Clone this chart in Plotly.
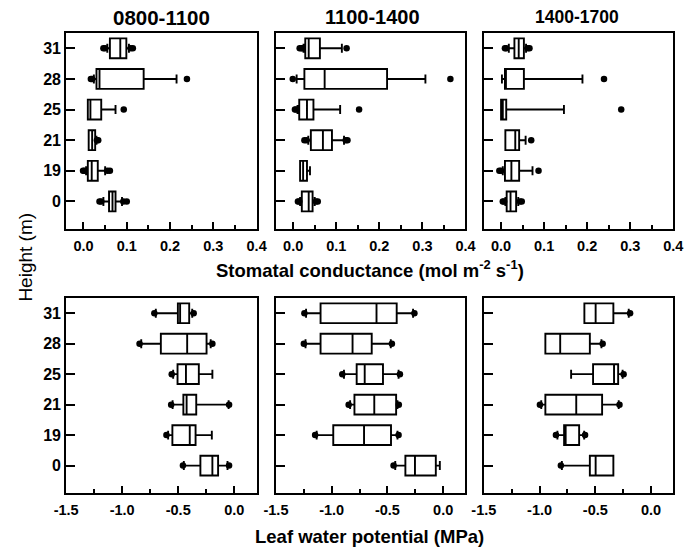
import plotly.graph_objects as go

heights = ["31", "28", "25", "21", "19", "0"]
pos = [0, 1, 2, 3, 4, 5]

periods = ["0800-1100", "1100-1400", "1400-1700"]

# Stomatal conductance (mol m-2 s-1): per period, per height (31..0)
gs_q1 = [
    [0.061, 0.030, 0.010, 0.012, 0.010, 0.059],
    [0.028, 0.026, 0.014, 0.041, 0.016, 0.020],
    [0.031, 0.009, 0.000, 0.010, 0.009, 0.013],
]
gs_med = [
    [0.085, 0.037, 0.016, 0.020, 0.019, 0.067],
    [0.036, 0.073, 0.032, 0.069, 0.023, 0.036],
    [0.041, 0.011, 0.004, 0.033, 0.024, 0.022],
]
gs_q3 = [
    [0.099, 0.139, 0.041, 0.027, 0.033, 0.074],
    [0.062, 0.218, 0.047, 0.090, 0.032, 0.045],
    [0.053, 0.053, 0.012, 0.042, 0.042, 0.035],
]
gs_lo = [
    [0.055, 0.024, 0.010, 0.012, 0.006, 0.046],
    [0.024, 0.008, 0.010, 0.035, 0.016, 0.016],
    [0.018, 0.002, 0.000, 0.010, 0.004, 0.010],
]
gs_hi = [
    [0.105, 0.215, 0.074, 0.030, 0.050, 0.089],
    [0.113, 0.307, 0.109, 0.118, 0.039, 0.050],
    [0.058, 0.189, 0.146, 0.057, 0.073, 0.040],
]
# outliers: (height index, value)
gs_out_idx = [
    [0, 0, 0, 0, 1, 1, 1, 2, 3, 3, 4, 4, 4, 4, 5, 5, 5, 5],
    [0, 0, 0, 0, 1, 1, 2, 2, 2, 3, 3, 3, 3, 5, 5, 5, 5],
    [0, 0, 0, 0, 1, 2, 3, 4, 4, 4, 5, 5, 5, 5],
]
gs_out_val = [
    [0.046, 0.050, 0.109, 0.114, 0.017, 0.020, 0.239, 0.093, 0.031, 0.034,
     -0.001, 0.002, 0.055, 0.061, 0.037, 0.041, 0.092, 0.100],
    [0.015, 0.019, 0.022, 0.124, -0.001, 0.365, 0.004, 0.007, 0.153,
     0.026, 0.031, 0.122, 0.126, 0.011, 0.014, 0.053, 0.057],
    [0.009, 0.012, 0.062, 0.066, 0.239, 0.279, 0.070, -0.004, 0.000, 0.087,
     0.004, 0.007, 0.044, 0.048],
]

# Leaf water potential (MPa)
lwp_q1 = [
    [-0.503, -0.655, -0.506, -0.454, -0.552, -0.302],
    [-1.100, -1.100, -0.776, -0.796, -0.986, -0.339],
    [-0.598, -0.948, -0.520, -0.948, -0.780, -0.549],
]
lwp_med = [
    [-0.483, -0.420, -0.431, -0.425, -0.397, -0.195],
    [-0.598, -0.813, -0.704, -0.618, -0.710, -0.253],
    [-0.497, -0.815, -0.332, -0.671, -0.766, -0.497],
]
lwp_q3 = [
    [-0.402, -0.247, -0.316, -0.339, -0.345, -0.144],
    [-0.417, -0.641, -0.540, -0.422, -0.468, -0.066],
    [-0.338, -0.549, -0.295, -0.439, -0.645, -0.338],
]
lwp_lo = [
    [-0.700, -0.830, -0.545, -0.550, -0.590, -0.450],
    [-1.230, -1.235, -0.890, -0.835, -1.135, -0.430],
    [-0.598, -0.948, -0.717, -0.985, -0.840, -0.800],
]
lwp_hi = [
    [-0.375, -0.210, -0.195, -0.050, -0.200, -0.060],
    [-0.270, -0.470, -0.400, -0.410, -0.410, -0.030],
    [-0.200, -0.445, -0.255, -0.290, -0.600, -0.338],
]
lwp_out_idx = [
    [0, 0, 1, 1, 2, 3, 3, 4, 5, 5],
    [0, 0, 1, 1, 2, 2, 3, 3, 4, 4, 5],
    [0, 1, 2, 3, 3, 4, 4, 5],
]
lwp_out_val = [
    [-0.713, -0.362, -0.845, -0.195, -0.558, -0.563, -0.046, -0.605, -0.458, -0.046],
    [-1.245, -0.258, -1.250, -0.460, -0.905, -0.388, -0.848, -0.398, -1.149, -0.400, -0.445],
    [-0.188, -0.434, -0.246, -0.997, -0.283, -0.853, -0.592, -0.809],
]

gs_ticks = [0.0, 0.1, 0.2, 0.3, 0.4]
gs_ticktext = ["0.0", "0.1", "0.2", "0.3", "0.4"]
gs_minor = [0.05, 0.15, 0.25, 0.35]
lwp_ticks = [-1.5, -1.0, -0.5, 0.0]
lwp_ticktext = ["-1.5", "-1.0", "-0.5", "0.0"]
lwp_minor = [-1.25, -0.75, -0.25]

FONT = "Liberation Sans, Arial, sans-serif"
W, H = 693, 548

x_dom = [(55 / W, 252 / W), (272 / W, 468 / W), (487 / W, 683 / W)]
y_dom_top = (1 - 229 / H, 1 - 33 / H)
y_dom_bot = (1 - 493 / H, 1 - 298 / H)

fig = go.Figure()
layout = {}

def add_panel(k, q1, med, q3, lo, hi, oi, ov, xdom, ydom, rng, tv, tt, mv, show_y):
    xname = "x" if k == 1 else f"x{k}"
    yname = "y" if k == 1 else f"y{k}"
    fig.add_trace(go.Box(
        y=pos, q1=q1, median=med, q3=q3, lowerfence=lo, upperfence=hi,
        orientation="h", xaxis=xname, yaxis=yname,
        fillcolor="white", line=dict(color="black", width=1.9),
        width=0.65, whiskerwidth=0.45, boxpoints=False, showlegend=False,
    ))
    fig.add_trace(go.Scatter(
        x=ov, y=oi, mode="markers", xaxis=xname, yaxis=yname,
        marker=dict(color="black", size=6.5, symbol="circle"), showlegend=False,
    ))
    layout["xaxis" if k == 1 else f"xaxis{k}"] = dict(
        domain=list(xdom), anchor=yname, range=rng,
        tickmode="array", tickvals=tv, ticktext=tt,
        ticks="inside", ticklen=7, tickwidth=1.5, tickcolor="black",
        minor=dict(tickmode="array", tickvals=mv, ticks="inside", ticklen=4,
                   tickwidth=1.5, tickcolor="black"),
        showline=True, linewidth=2, linecolor="black", mirror=True,
        showgrid=False, zeroline=False, ticklabelstandoff=3,
        tickfont=dict(family=FONT, size=14.5, color="black", weight="bold"),
    )
    layout["yaxis" if k == 1 else f"yaxis{k}"] = dict(
        domain=list(ydom), anchor=xname, range=[5.9, -0.5],
        tickmode="array", tickvals=pos, ticktext=heights,
        ticks="inside", ticklen=9, tickwidth=1.5, tickcolor="black",
        showticklabels=show_y,
        showline=True, linewidth=2, linecolor="black", mirror=True,
        showgrid=False, zeroline=False,
        tickfont=dict(family=FONT, size=16, color="black", weight="bold"),
    )

for i in range(3):
    add_panel(i + 1, gs_q1[i], gs_med[i], gs_q3[i], gs_lo[i], gs_hi[i],
              gs_out_idx[i], gs_out_val[i], x_dom[i], y_dom_top, [-0.04, 0.4],
              gs_ticks, gs_ticktext, gs_minor, i == 0)
for i in range(3):
    add_panel(i + 4, lwp_q1[i], lwp_med[i], lwp_q3[i], lwp_lo[i], lwp_hi[i],
              lwp_out_idx[i], lwp_out_val[i], x_dom[i], y_dom_bot, [-1.5, 0.2],
              lwp_ticks, lwp_ticktext, lwp_minor, i == 0)

title_x = [153.5 / W, 372 / W, 583 / W]
title_size = [20.5, 20, 17.5]
annotations = []
for i in range(3):
    annotations.append(dict(
        text=periods[i], x=title_x[i], y=1 - 17 / H, xref="paper", yref="paper",
        showarrow=False, xanchor="center", yanchor="middle",
        font=dict(family=FONT, size=title_size[i], color="black", weight="bold"),
    ))
annotations.append(dict(
    text="Stomatal conductance (mol m<sup>-2</sup> s<sup>-1</sup>)",
    x=369 / W, y=1 - 269 / H, xref="paper", yref="paper", showarrow=False,
    xanchor="center", yanchor="middle",
    font=dict(family=FONT, size=18.5, color="black", weight="bold"),
))
annotations.append(dict(
    text="Leaf water potential (MPa)",
    x=369 / W, y=1 - 536 / H, xref="paper", yref="paper", showarrow=False,
    xanchor="center", yanchor="middle",
    font=dict(family=FONT, size=18.5, color="black", weight="bold"),
))
annotations.append(dict(
    text="Height (m)", x=12 / W, y=1 - 257 / H, xref="paper", yref="paper",
    showarrow=False, textangle=-90, xanchor="center", yanchor="middle",
    font=dict(family=FONT, size=19, color="black"),
))

fig.update_layout(
    width=W, height=H, margin=dict(l=0, r=0, t=0, b=0),
    paper_bgcolor="white", plot_bgcolor="white",
    annotations=annotations, **layout,
)

fig.write_html(
    "out.html",
    config={"displayModeBar": False},
    post_script="document.body.style.margin='0';document.body.style.overflow='hidden';",
)
